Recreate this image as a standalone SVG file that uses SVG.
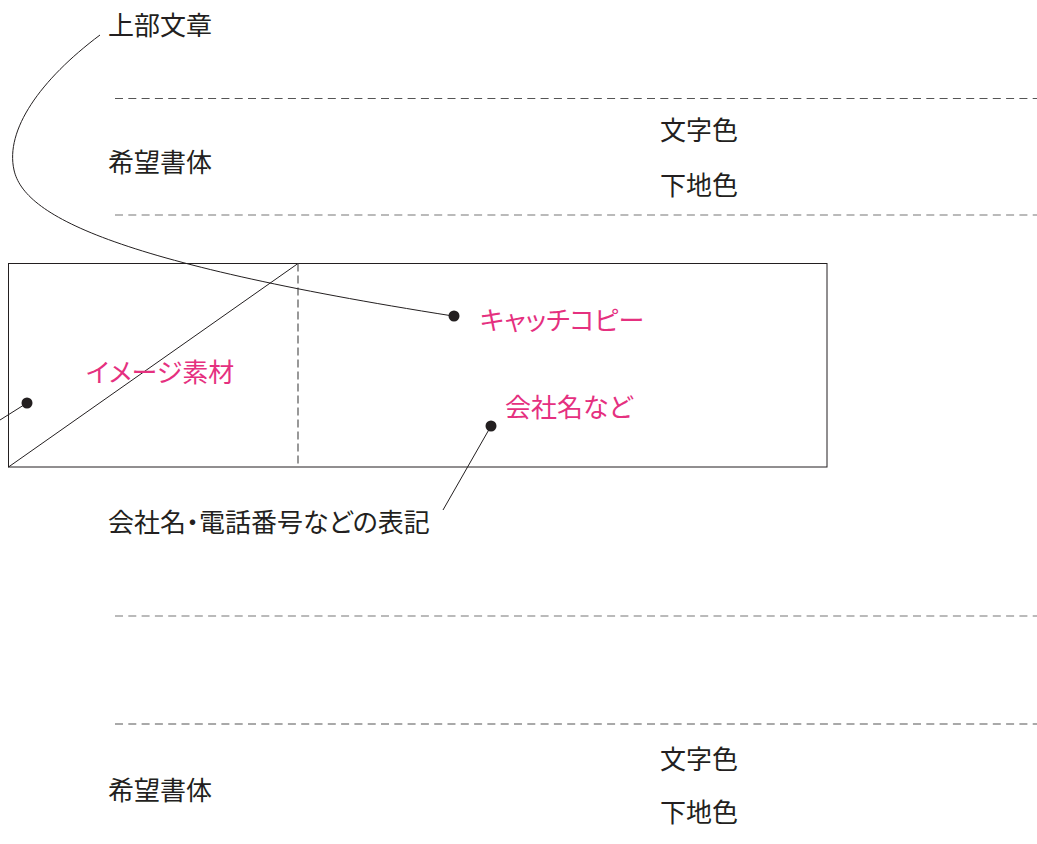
<svg xmlns="http://www.w3.org/2000/svg" width="1037" height="844" viewBox="0 0 1037 844">
<style>
text{font-family:"Noto Sans CJK JP","Noto Sans",sans-serif;font-size:26px;fill:#231f20;font-feature-settings:"palt"}
.pk{fill:#e5307f}
.dash{stroke:#555;stroke-width:1.2;stroke-dasharray:8 5.3;fill:none}
.ln{stroke:#231f20;stroke-width:1;fill:none}
.dot{fill:#231f20}
</style>
<rect width="1037" height="844" fill="#fff"/>
<g id="bands">
<line class="dash" x1="115" y1="98.5" x2="1037" y2="98.5"/>
<line class="dash" x1="115" y1="215" x2="1037" y2="215" style="stroke:#777"/>
<line class="dash" x1="115" y1="616" x2="1037" y2="616" style="stroke:#777"/>
<line class="dash" x1="115" y1="724" x2="1037" y2="724"/>
</g>
<g id="frame">
<rect x="8.5" y="263.5" width="818.5" height="203.5" class="ln"/>
<line class="ln" x1="8.5" y1="467" x2="298" y2="263.5"/>
<line x1="298" y1="263.5" x2="298" y2="467" stroke="#555" stroke-width="1.2" stroke-dasharray="8 4"/>
</g>
<g id="connectors">
<path class="ln" d="M100,35 C40,80 5,130 14,170 C24,215 110,262 453,316"/>
<line class="ln" x1="0" y1="420" x2="27" y2="403"/>
<line class="ln" x1="491" y1="426" x2="443" y2="510"/>
<circle class="dot" cx="454" cy="316" r="5.5"/>
<circle class="dot" cx="27" cy="403" r="5.5"/>
<circle class="dot" cx="491" cy="426" r="5.5"/>
</g>
<g id="top-text"><text x="108" y="34.5">上部文章</text></g>
<g id="font-top"><text x="108" y="171.5">希望書体</text></g>
<g id="color-top"><text x="660" y="139.5">文字色</text><text x="660" y="194.5">下地色</text></g>
<g id="catch"><text class="pk" x="480" y="329.5">キャッチコピー</text></g>
<g id="image"><text class="pk" x="86" y="381.5">イメージ素材</text></g>
<g id="company"><text class="pk" x="505" y="416.5">会社名など</text></g>
<g id="note"><text x="108" y="531.5">会社名・電話番号などの表記</text></g>
<g id="font-bottom"><text x="108" y="799.5">希望書体</text></g>
<g id="color-bottom"><text x="660" y="768.5">文字色</text><text x="660" y="821.5">下地色</text></g>
</svg>
